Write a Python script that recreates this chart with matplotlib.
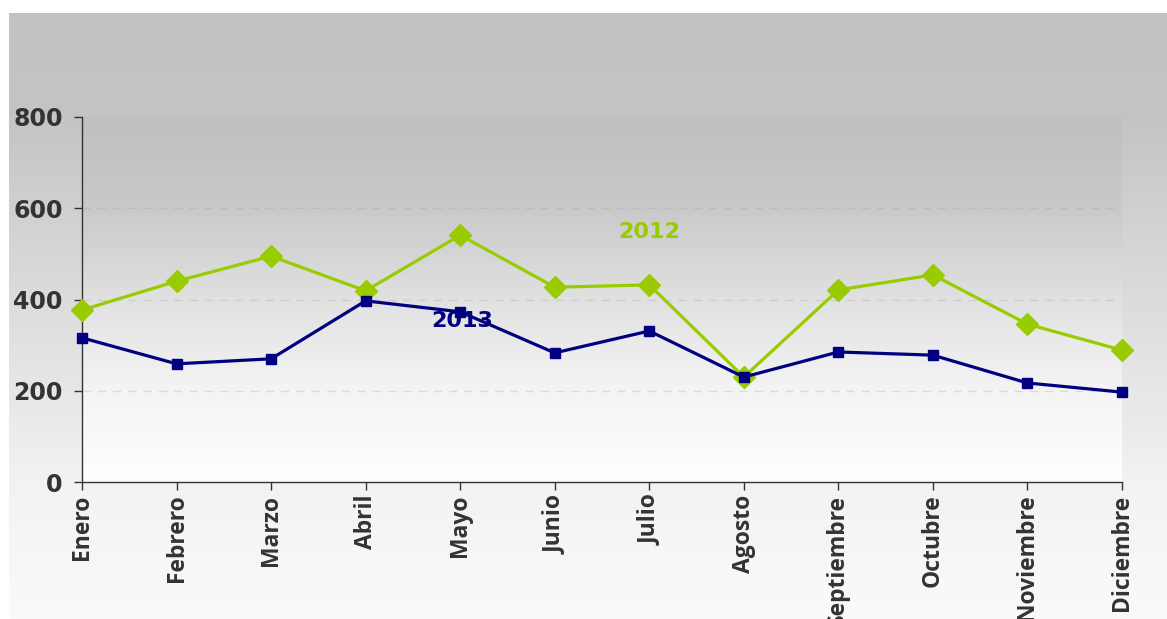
import numpy as np
import matplotlib
matplotlib.use("Agg")
import matplotlib.pyplot as plt
from matplotlib.colors import LinearSegmentedColormap

meses = ["Enero", "Febrero", "Marzo", "Abril", "Mayo", "Junio", "Julio",
         "Agosto", "Septiembre", "Octubre", "Noviembre", "Diciembre"]
v2012 = [377, 440, 495, 419, 541, 427, 432, 230, 421, 454, 346, 289]
v2013 = [316, 259, 270, 397, 373, 283, 331, 230, 285, 278, 217, 197]
yticks = [0, 200, 400, 600, 800]

verde = "#99cc00"
azul = "#000080"
gris = "#333333"

W, H = 1167, 619
fig = plt.figure(figsize=(W / 100, H / 100), dpi=100)
fig.patch.set_facecolor("white")

grad = np.linspace(0, 1, 512).reshape(-1, 1)

# fondo degradado de la figura
bg = fig.add_axes([9 / W, 0, 1 - 9 / W, (H - 13) / H], zorder=-10)
cm_fondo = LinearSegmentedColormap.from_list("fondo", [
    (0.0, "#fafafa"), (0.229, "#f2f2f2"), (0.526, "#dcdcdc"),
    (0.828, "#c4c4c4"), (1.0, "#c2c2c2")])
bg.imshow(grad, aspect="auto", cmap=cm_fondo, origin="lower", extent=[0, 1, 0, 1])
bg.axis("off")

ax = fig.add_axes([82 / W, (H - 482) / H, (1122 - 82) / W, (482 - 117) / H])
ax.set_facecolor("none")
cm_area = LinearSegmentedColormap.from_list("area", [
    (0.0, "#ffffff"), (0.25, "#f4f4f4"), (0.5, "#e1e1e1"),
    (0.75, "#c9c9c9"), (1.0, "#bfbfbf")])
ax.imshow(grad, aspect="auto", cmap=cm_area, origin="lower",
          extent=[0, 11, 0, 800], zorder=0)

for v in [200, 400, 600]:
    ax.axhline(v, color="#a0a0a0", alpha=0.3, lw=1, ls=(0, (6, 5)), zorder=1)

x = np.arange(len(meses))
ax.plot(x, v2012, color=verde, lw=2.3, marker="D", ms=11, clip_on=False, zorder=3)
ax.plot(x, v2013, color=azul, lw=2.3, marker="s", ms=7.5, clip_on=False, zorder=3)

ax.annotate("2012", xy=(6.0, 548), color=verde, fontsize=16, fontweight="bold",
            ha="center", va="center", zorder=4)
ax.annotate("2013", xy=(4.02, 352), color=azul, fontsize=16, fontweight="bold",
            ha="center", va="center", zorder=4)

ax.set_xlim(0, 11)
ax.set_ylim(0, 800)
ax.set_yticks(yticks)
ax.set_yticklabels([str(v) for v in yticks], fontsize=17, fontweight="bold", color=gris)
ax.set_xticks(x)
ax.set_xticklabels(meses, rotation=90, fontsize=16.5, fontweight="bold", color=gris,
                   family=["Open Sans", "DejaVu Sans"], va="top", ha="center")
ax.tick_params(axis="both", direction="out", length=6, width=1, color="#333333")
ax.tick_params(axis="y", pad=8)
ax.tick_params(axis="x", pad=3)

for s in ["top", "right"]:
    ax.spines[s].set_visible(False)
for s in ["left", "bottom"]:
    ax.spines[s].set_color("#333333")
    ax.spines[s].set_linewidth(1)

fig.savefig("out.png", dpi=100)
